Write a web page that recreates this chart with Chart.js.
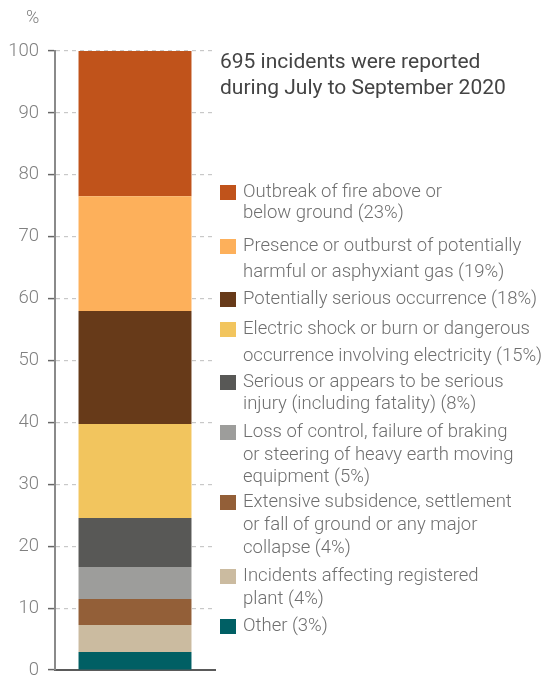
<!DOCTYPE html>
<html>
<head>
<meta charset="utf-8">
<script src="https://cdn.jsdelivr.net/npm/chart.js@4"></script>
<style>
  html, body { margin: 0; padding: 0; background: #fff; }
  #wrap { position: relative; width: 545px; height: 675px; font-family: Roboto, "Noto Sans", sans-serif; }
  canvas { position: absolute; left: 0; top: 0; }
  #unit { position: absolute; left: 26px; top: 6px; font-size: 18px; font-weight: 300; color: #808080; }
  #title { position: absolute; left: 220px; top: 48px; font-size: 21px; line-height: 26px; color: #444; font-weight: 400; }
  .item { position: absolute; left: 220px; font-size: 18.5px; font-weight: 300; color: #6f6f6f; white-space: nowrap; }
  .sw { position: absolute; left: 0; width: 16px; height: 15px; }
  .txt { position: absolute; left: 23px; top: 0; }
</style>
</head>
<body>
<div id="wrap">
  <canvas id="c" width="545" height="675"></canvas>
  <div id="unit">%</div>
  <div id="title">695 incidents were reported<br>during July to September 2020</div>
  <div id="legend"></div>
</div>
<script>
// Categories in legend order (top of bar first)
const categories = [
  "Outbreak of fire above or\nbelow ground (23%)",
  "Presence or outburst of potentially\nharmful or asphyxiant gas (19%)",
  "Potentially serious occurrence (18%)",
  "Electric shock or burn or dangerous\noccurrence involving electricity (15%)",
  "Serious or appears to be serious\ninjury (including fatality) (8%)",
  "Loss of control, failure of braking\nor steering of heavy earth moving\nequipment (5%)",
  "Extensive subsidence, settlement\nor fall of ground or any major\ncollapse (4%)",
  "Incidents affecting registered\nplant (4%)",
  "Other (3%)"
];
const shares = [23.45, 18.55, 18.25, 15.2, 7.9, 5.2, 4.2, 4.35, 2.9];
const colors = ["#C0531B", "#FDB05B", "#673A19", "#F2C55E", "#585856", "#9D9D9B", "#935F38", "#CBBBA0", "#005F64"];
const yTicks = [0, 10, 20, 30, 40, 50, 60, 70, 80, 90, 100];

// legend layout (top of first line, line height)
const legendTops = [181, 232, 287, 315, 370, 420, 490, 564, 614];
const legendLH = [21, 26, 22, 27, 22, 22.5, 23, 23, 22];

const datasets = [];
for (let i = categories.length - 1; i >= 0; i--) {
  datasets.push({
    label: categories[i],
    data: [shares[i]],
    backgroundColor: colors[i],
    borderWidth: 0,
    barPercentage: 0.706,
    categoryPercentage: 1.0
  });
}

new Chart(document.getElementById('c'), {
  type: 'bar',
  data: { labels: [''], datasets },
  options: {
    responsive: false,
    animation: false,
    events: [],
    layout: { padding: { left: 0, right: 330, top: 51, bottom: 5 } },
    plugins: { legend: { display: false }, tooltip: { enabled: false }, title: { display: false } },
    scales: {
      x: {
        stacked: true,
        ticks: { display: false },
        grid: { display: false, drawTicks: false },
        border: { display: true, color: '#5a5a5a', width: 2 },
        afterFit: s => { s.height = 0; s.paddingLeft = 0; s.paddingRight = 0; }
      },
      y: {
        stacked: true,
        min: 0, max: 100,
        afterBuildTicks: s => { s.ticks = yTicks.map(v => ({ value: v })); },
        ticks: { color: '#808080', font: { family: 'Roboto', size: 18.5, weight: 300 }, padding: 9 },
        grid: { color: '#c8c8c8', lineWidth: 1.2, tickLength: 7, tickColor: '#666', tickWidth: 1.5 },
        border: { display: true, color: '#8a8a8a', width: 2, dash: [4, 4] },
        afterFit: s => { s.width = 55; s.paddingTop = 0; s.paddingBottom = 0; }
      }
    }
  }
});

const legend = document.getElementById('legend');
categories.forEach((c, i) => {
  const d = document.createElement('div');
  d.className = 'item';
  d.style.top = legendTops[i] + 'px';
  d.style.lineHeight = legendLH[i] + 'px';
  const sw = document.createElement('div');
  sw.className = 'sw';
  sw.style.background = colors[i];
  sw.style.top = ((legendLH[i] - 15) / 2 + 1) + 'px';
  const t = document.createElement('div');
  t.className = 'txt';
  t.textContent = c;
  t.style.whiteSpace = 'pre';
  d.appendChild(sw);
  d.appendChild(t);
  legend.appendChild(d);
});
</script>
</body>
</html>
